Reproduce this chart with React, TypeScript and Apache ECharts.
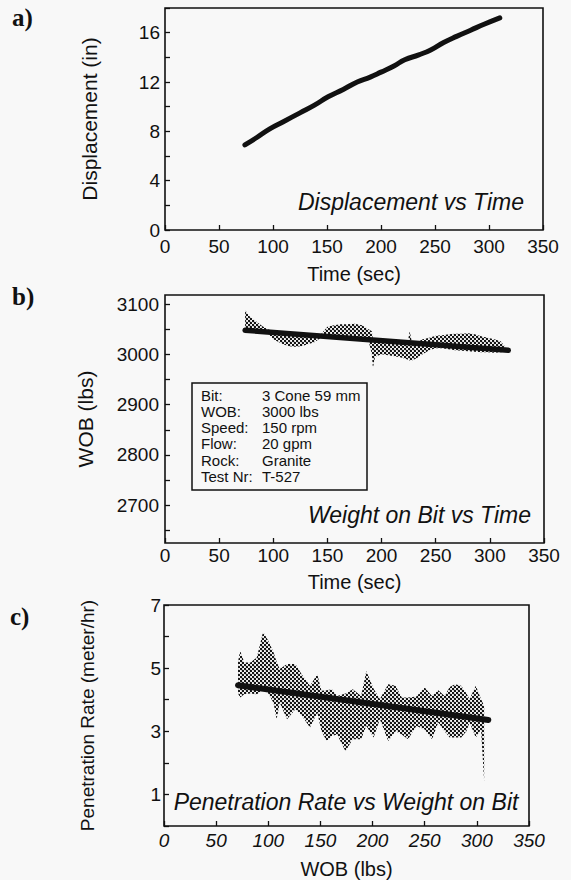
import React, { useEffect, useRef } from "react";
import * as echarts from "echarts";

// shared x ticks (0..350 step 50)
const xTickValues = [0, 50, 100, 150, 200, 250, 300, 350];

// a) Displacement vs Time
const dispTime = [74, 85, 97, 110, 125, 138, 151, 165, 178, 190, 200, 212, 222, 235, 246, 258, 270, 283, 296, 310];
const dispInches = [6.9, 7.5, 8.2, 8.8, 9.5, 10.1, 10.8, 11.4, 12.0, 12.4, 12.8, 13.3, 13.8, 14.2, 14.6, 15.2, 15.7, 16.2, 16.7, 17.2];
const dispYLabels = [0, 4, 8, 12, 16];
const dispYTicks = [0, 2, 4, 6, 8, 10, 12, 14, 16, 18];

// b) Weight on Bit vs Time
const wobTime = [74, 78, 84, 90, 95, 100, 107, 114, 120, 126, 132, 138, 144, 150, 156, 162, 168, 175, 182, 188, 191, 192, 194, 200, 206, 212, 218, 224, 226, 228, 232, 238, 244, 250, 256, 262, 268, 274, 280, 286, 292, 298, 304, 310, 316];
const wobUpper = [3088, 3076, 3066, 3056, 3050, 3046, 3044, 3042, 3041, 3040, 3039, 3038, 3040, 3055, 3058, 3060, 3060, 3061, 3058, 3050, 3046, 3030, 3028, 3027, 3026, 3025, 3024, 3023, 3046, 3024, 3023, 3030, 3033, 3037, 3038, 3040, 3041, 3041, 3042, 3040, 3036, 3033, 3030, 3026, 3010];
const wobLower = [3045, 3045, 3045, 3043, 3041, 3030, 3022, 3016, 3015, 3016, 3020, 3024, 3033, 3034, 3033, 3032, 3031, 3030, 3029, 3027, 3000, 2973, 2995, 3000, 2998, 2996, 2994, 2990, 2988, 2988, 2992, 3000, 3008, 3012, 3012, 3010, 3008, 3007, 3006, 3005, 3004, 3004, 3003, 3004, 3005];
const wobTrendTime = [74, 317];
const wobTrendLbs = [3048, 3008];
const wobYLabels = [2700, 2800, 2900, 3000, 3100];
const wobYTicks = [2650, 2700, 2750, 2800, 2850, 2900, 2950, 3000, 3050, 3100];

const infoLabels = ["Bit:", "WOB:", "Speed:", "Flow:", "Rock:", "Test Nr:"];
const infoValues = ["3 Cone 59 mm", "3000 lbs", "150 rpm", "20 gpm", "Granite", "T-527"];

// c) Penetration Rate vs Weight on Bit
const penWob = [71, 73, 77, 83, 89, 95, 100, 105, 108, 111, 118, 126, 132, 140, 147, 151, 156, 161, 166, 174, 181, 189, 194, 201, 207, 215, 222, 228, 234, 242, 250, 257, 263, 269, 274, 279, 285, 290, 293, 299, 304, 307];
const penUpper = [5.2, 5.55, 5.18, 5.18, 5.34, 6.15, 5.87, 5.5, 5.2, 4.97, 5.13, 5.13, 4.81, 4.44, 4.81, 4.28, 4.3, 4.33, 4.12, 4.2, 4.33, 4.12, 4.91, 4.35, 4.02, 4.49, 4.44, 4.07, 4.07, 4.1, 4.39, 4.12, 4.3, 4.12, 4.4, 4.49, 4.44, 4.2, 4.02, 4.44, 4.02, 3.8];
const penLower = [4.2, 4.07, 4.17, 4.2, 4.17, 4.3, 4.2, 3.9, 3.38, 3.9, 3.38, 3.7, 3.5, 3.12, 3.59, 3.0, 2.69, 2.85, 2.9, 2.37, 2.75, 2.75, 3.17, 2.8, 3.38, 2.69, 3.0, 2.9, 2.75, 3.17, 3.06, 2.75, 3.28, 3.0, 2.8, 2.8, 2.8, 3.0, 3.28, 2.8, 3.06, 1.4];
const penTrendWob = [71, 311];
const penTrendRate = [4.46, 3.36];
const penYLabels = [1, 3, 5, 7];
const penYTicks = [0, 1, 2, 3, 4, 5, 6, 7];

const INK = "#111111";
const BG = "#f8f8f8";
const SANS = '"Liberation Sans", Arial, Helvetica, sans-serif';
const SERIF = '"Liberation Serif", "Times New Roman", serif';

function makeStipple(): any {
  const c = document.createElement("canvas");
  c.width = 4;
  c.height = 4;
  const ctx = c.getContext("2d");
  if (!ctx) return "rgba(0,0,0,0.5)";
  ctx.fillStyle = INK;
  ctx.beginPath();
  ctx.arc(1, 1, 1.25, 0, Math.PI * 2);
  ctx.fill();
  ctx.beginPath();
  ctx.arc(3, 3, 1.25, 0, Math.PI * 2);
  ctx.fill();
  return { image: c, repeat: "repeat", imageWidth: 4, imageHeight: 4 };
}

function xAxisFor(gridIndex: number, name: string, nameGap: number, margin: number, italic: boolean) {
  return {
    type: "value",
    gridIndex,
    min: 0,
    max: 350,
    interval: 50,
    name,
    nameLocation: "middle",
    nameGap,
    nameTextStyle: { fontFamily: SANS, fontSize: 20, color: INK },
    axisLine: { show: false },
    axisTick: { show: true, inside: true, length: 5, lineStyle: { color: INK, width: 1.3 }, customValues: xTickValues },
    axisLabel: {
      show: true,
      margin,
      fontFamily: SANS,
      fontSize: 19,
      fontStyle: italic ? "italic" : "normal",
      color: INK,
      customValues: xTickValues,
      formatter: (v: number) => String(v),
      showMinLabel: true,
      showMaxLabel: true,
    },
    splitLine: { show: false },
  };
}

function yAxisFor(gridIndex: number, min: number, max: number, labels: number[], ticks: number[], name: string, nameGap: number, margin: number, nameSize: number) {
  return {
    type: "value",
    gridIndex,
    min,
    max,
    name,
    nameLocation: "middle",
    nameGap,
    nameTextStyle: { fontFamily: SANS, fontSize: nameSize, color: INK },
    axisLine: { show: false },
    axisTick: { show: true, inside: true, length: 5, lineStyle: { color: INK, width: 1.3 }, customValues: ticks },
    axisLabel: {
      show: true,
      margin,
      fontFamily: SANS,
      fontSize: 19,
      color: INK,
      customValues: labels,
      formatter: (v: number) => String(v),
      showMinLabel: true,
      showMaxLabel: true,
    },
    splitLine: { show: false },
  };
}

// polygon band (upper edge forward, lower edge backward) drawn through the axis scales
function bandSeries(axisIndex: number, xs: number[], upper: number[], lower: number[], fill: any) {
  return {
    type: "custom",
    coordinateSystem: "cartesian2d",
    xAxisIndex: axisIndex,
    yAxisIndex: axisIndex,
    data: xs.map((x, i) => [x, upper[i], lower[i]]),
    encode: { x: 0, y: [1, 2] },
    clip: true,
    z: 2,
    renderItem: (params: any, api: any) => {
      if (params.dataIndex !== 0) return null;
      const pts: number[][] = [];
      for (let i = 0; i < xs.length; i++) pts.push(api.coord([xs[i], upper[i]]));
      for (let i = xs.length - 1; i >= 0; i--) pts.push(api.coord([xs[i], lower[i]]));
      return {
        type: "polygon",
        shape: { points: pts },
        style: { fill, stroke: null },
      };
    },
  };
}

export default function App() {
  const ref = useRef<HTMLDivElement>(null);

  useEffect(() => {
    document.body.style.margin = "0";
    document.body.style.background = BG;
    if (!ref.current) return;
    const chart = echarts.init(ref.current, undefined, { renderer: "svg" });

    const gridStyle = { show: true, borderColor: INK, borderWidth: 1.6, backgroundColor: "transparent" };

    const thickLine = (width: number) => ({ color: INK, width, cap: "round", join: "round" });

    const infoGraphics: any[] = [
      {
        type: "rect",
        shape: { x: 192, y: 383, width: 175, height: 107 },
        style: { fill: BG, stroke: INK, lineWidth: 1.5 },
        z: 10,
      },
    ];
    infoLabels.forEach((lab, i) => {
      const y = 395 + i * 16.3;
      infoGraphics.push({
        type: "text",
        x: 201,
        y,
        z: 11,
        style: { text: lab, fontFamily: SANS, fontSize: 15, fill: INK, align: "left", verticalAlign: "middle" },
      });
      infoGraphics.push({
        type: "text",
        x: 262,
        y,
        z: 11,
        style: { text: infoValues[i], fontFamily: SANS, fontSize: 15, fill: INK, align: "left", verticalAlign: "middle" },
      });
    });

    const titleStyle = (text: string, align: string) => ({
      text,
      fontFamily: SANS,
      fontSize: 23,
      fontStyle: "italic",
      fill: INK,
      align,
      verticalAlign: "middle",
    });

    const option: any = {
      animation: false,
      backgroundColor: BG,
      grid: [
        { ...gridStyle, left: 165, top: 8, width: 378, height: 222 },
        { ...gridStyle, left: 165, top: 295, width: 379, height: 248 },
        { ...gridStyle, left: 164, top: 605, width: 365, height: 222 },
      ],
      xAxis: [
        xAxisFor(0, "Time (sec)", 34, 7, false),
        xAxisFor(1, "Time (sec)", 29, 3, false),
        xAxisFor(2, "WOB (lbs)", 33, 5, true),
      ],
      yAxis: [
        yAxisFor(0, 0, 18, dispYLabels, dispYTicks, "Displacement (in)", 65, 5, 21),
        yAxisFor(1, 2625, 3118, wobYLabels, wobYTicks, "WOB (lbs)", 69, 6, 21),
        yAxisFor(2, 0, 7, penYLabels, penYTicks, "Penetration Rate (meter/hr)", 67, 3, 19),
      ],
      series: [
        {
          type: "line",
          xAxisIndex: 0,
          yAxisIndex: 0,
          data: dispTime.map((t, i) => [t, dispInches[i]]),
          showSymbol: false,
          symbol: "none",
          smooth: 0.5,
          lineStyle: thickLine(5),
          z: 5,
        },
        bandSeries(1, wobTime, wobUpper, wobLower, makeStipple()),
        {
          type: "line",
          xAxisIndex: 1,
          yAxisIndex: 1,
          data: wobTrendTime.map((t, i) => [t, wobTrendLbs[i]]),
          symbol: "none",
          lineStyle: thickLine(5.5),
          z: 5,
        },
        bandSeries(2, penWob, penUpper, penLower, makeStipple()),
        {
          type: "line",
          xAxisIndex: 2,
          yAxisIndex: 2,
          data: penTrendWob.map((w, i) => [w, penTrendRate[i]]),
          symbol: "none",
          lineStyle: thickLine(6),
          z: 5,
        },
      ],
      graphic: [
        { type: "text", x: 12, y: 17, style: { text: "a)", fontFamily: SERIF, fontSize: 25, fontWeight: "bold", fill: INK, verticalAlign: "middle" } },
        { type: "text", x: 12, y: 296, style: { text: "b)", fontFamily: SERIF, fontSize: 25, fontWeight: "bold", fill: INK, verticalAlign: "middle" } },
        { type: "text", x: 10, y: 616, style: { text: "c)", fontFamily: SERIF, fontSize: 25, fontWeight: "bold", fill: INK, verticalAlign: "middle" } },
        { type: "text", x: 524, y: 202, z: 11, style: titleStyle("Displacement vs Time", "right") },
        { type: "text", x: 531, y: 515, z: 11, style: titleStyle("Weight on Bit vs Time", "right") },
        { type: "text", x: 346, y: 802, z: 11, style: titleStyle("Penetration Rate vs Weight on Bit", "center") },
        ...infoGraphics,
      ],
    };

    chart.setOption(option);
    return () => {
      chart.dispose();
    };
  }, []);

  return <div ref={ref} style={{ width: 571, height: 880, background: BG }} />;
}
